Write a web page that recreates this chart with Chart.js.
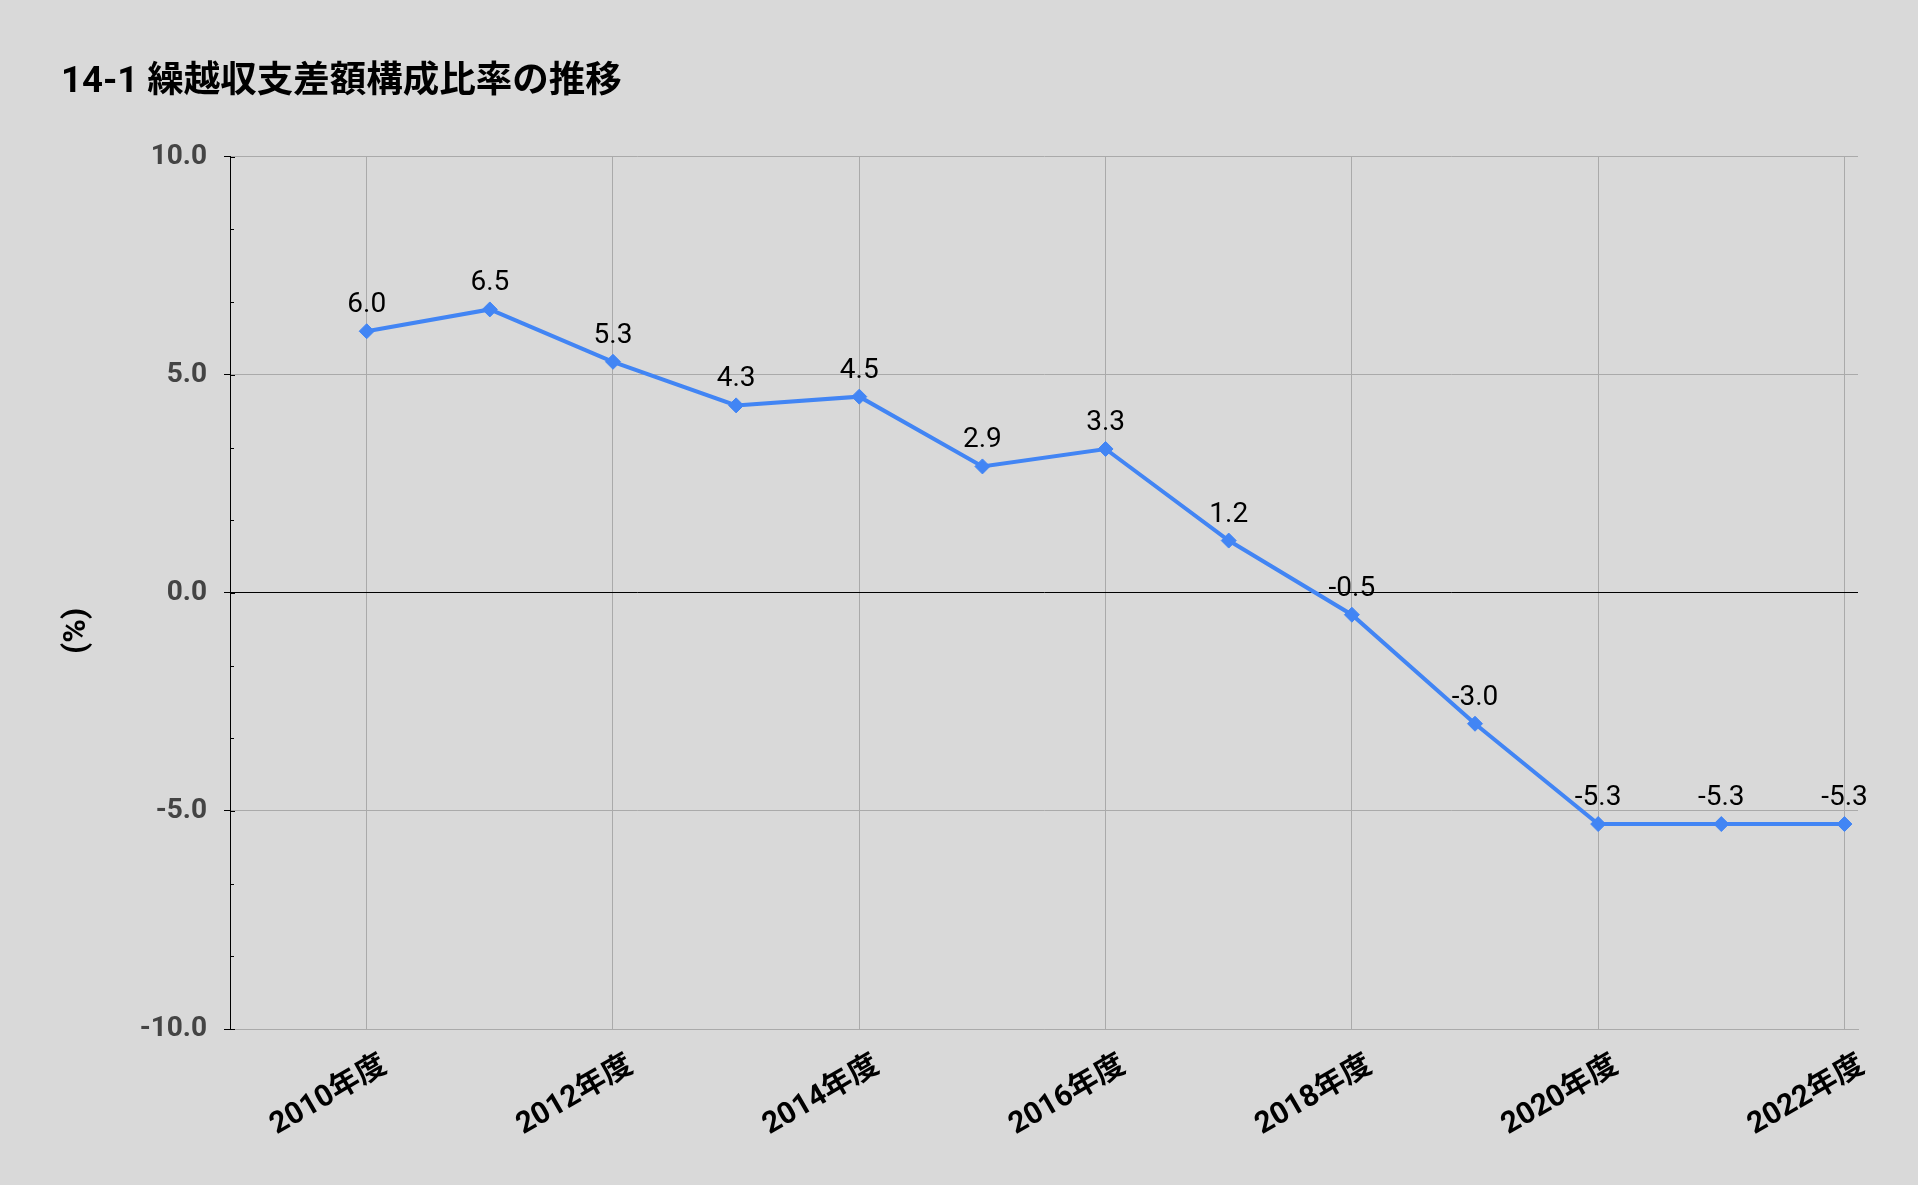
<!DOCTYPE html>
<html lang="ja">
<head>
<meta charset="utf-8">
<title>14-1 繰越収支差額構成比率の推移</title>
<script src="https://cdn.jsdelivr.net/npm/chart.js"></script>
<style>
  html, body { margin: 0; padding: 0; background: #d9d9d9; }
  canvas { display: block; }
</style>
</head>
<body>
<canvas id="chart" width="1918" height="1185"></canvas>
<script>
// Data
const years = [2010, 2011, 2012, 2013, 2014, 2015, 2016, 2017, 2018, 2019, 2020, 2021, 2022];
const ratios = [6.0, 6.5, 5.3, 4.3, 4.5, 2.9, 3.3, 1.2, -0.5, -3.0, -5.3, -5.3, -5.3];
const xTickYears = [2010, 2012, 2014, 2016, 2018, 2020, 2022];
const yMajorTicks = [-10, -5, 0, 5, 10];

const FONT = 'Roboto, "Noto Sans CJK JP", sans-serif';
const LINE_BLUE = '#4285F4';
const GRID_GREY = '#aaaaaa';

function isMajor(v) {
    return yMajorTicks.some(m => Math.abs(m - v) < 1e-6);
}

// Value labels above each point
const pointLabels = {
    id: 'pointLabels',
    afterDatasetsDraw(chart) {
        const ctx = chart.ctx;
        const meta = chart.getDatasetMeta(0);
        ctx.save();
        ctx.font = '28px ' + FONT;
        ctx.fillStyle = '#000';
        ctx.textAlign = 'center';
        ctx.textBaseline = 'alphabetic';
        meta.data.forEach((pt, i) => {
            ctx.fillText(ratios[i].toFixed(1), pt.x, pt.y - 19);
        });
        ctx.restore();
    }
};

// Short tick marks on the inside of the y axis, plus the axis title
const yAxisExtras = {
    id: 'yAxisExtras',
    afterDraw(chart) {
        const ctx = chart.ctx;
        const y = chart.scales.y;
        const area = chart.chartArea;
        ctx.save();
        ctx.strokeStyle = '#000';
        ctx.lineWidth = 1;
        y.ticks.forEach(t => {
            const py = Math.round(y.getPixelForValue(t.value)) + 0.5;
            ctx.beginPath();
            ctx.moveTo(area.left, py);
            ctx.lineTo(area.left + (isMajor(t.value) ? 5 : 4), py);
            ctx.stroke();
        });

        // "(%)" sits a bit below the middle of the axis
        ctx.translate(77, (area.top + area.bottom) / 2 + 38);
        ctx.rotate(-Math.PI / 2);
        ctx.font = 'bold 32px ' + FONT;
        ctx.fillStyle = '#000';
        ctx.textAlign = 'center';
        ctx.textBaseline = 'middle';
        ctx.fillText('(%)', 0, 0);
        ctx.restore();
    }
};

const ctx = document.getElementById('chart').getContext('2d');
new Chart(ctx, {
    type: 'line',
    data: {
        datasets: [{
            label: '繰越収支差額構成比率',
            data: years.map((yr, i) => ({ x: yr, y: ratios[i] })),
            borderColor: LINE_BLUE,
            backgroundColor: LINE_BLUE,
            borderWidth: 4,
            pointStyle: 'rectRot',
            pointRadius: 7.5,
            pointBorderWidth: 1,
            tension: 0
        }]
    },
    options: {
        responsive: false,
        animation: false,
        layout: { padding: { left: 61, right: 60, top: 0, bottom: 0 } },
        plugins: {
            legend: { display: false },
            tooltip: { enabled: false },
            title: {
                display: true,
                text: '14-1 繰越収支差額構成比率の推移',
                align: 'start',
                color: '#000',
                font: { family: FONT, size: 36.5, weight: 'bold' },
                padding: { top: 61, bottom: 52 }
            }
        },
        scales: {
            x: {
                type: 'linear',
                min: 2008.89,
                max: 2022.11,
                afterBuildTicks(scale) {
                    scale.ticks = xTickYears.map(v => ({ value: v }));
                },
                afterFit(scale) {
                    scale.height = 156;
                },
                ticks: {
                    autoSkip: false,
                    minRotation: 30,
                    maxRotation: 30,
                    padding: 19,
                    labelOffset: 18,
                    color: '#000',
                    font: { family: FONT, size: 30, weight: 'bold' },
                    callback: v => v + '年度'
                },
                grid: { color: GRID_GREY, drawTicks: false },
                border: { color: GRID_GREY }
            },
            y: {
                min: -10,
                max: 10,
                afterBuildTicks(scale) {
                    const t = [];
                    for (let k = 0; k <= 12; k++) {
                        t.push({ value: Math.round((-10 + k * 5 / 3) * 1000) / 1000 });
                    }
                    scale.ticks = t;
                },
                afterFit(scale) {
                    scale.width = 169;
                },
                ticks: {
                    autoSkip: false,
                    padding: 17,
                    color: '#444',
                    font: { family: FONT, size: 28, weight: 'bold' },
                    callback: v => isMajor(v) ? (Math.abs(v) < 1e-6 ? 0 : v).toFixed(1) : ''
                },
                grid: {
                    tickLength: 6,
                    color: c => {
                        const v = c.tick ? c.tick.value : 1;
                        if (!isMajor(v)) return 'rgba(0,0,0,0)';
                        return Math.abs(v) < 1e-6 ? '#000' : GRID_GREY;
                    },
                    tickColor: c => (c.tick && isMajor(c.tick.value)) ? '#000' : 'rgba(0,0,0,0)'
                },
                border: { color: '#000' }
            }
        }
    },
    plugins: [pointLabels, yAxisExtras]
});
</script>
</body>
</html>
